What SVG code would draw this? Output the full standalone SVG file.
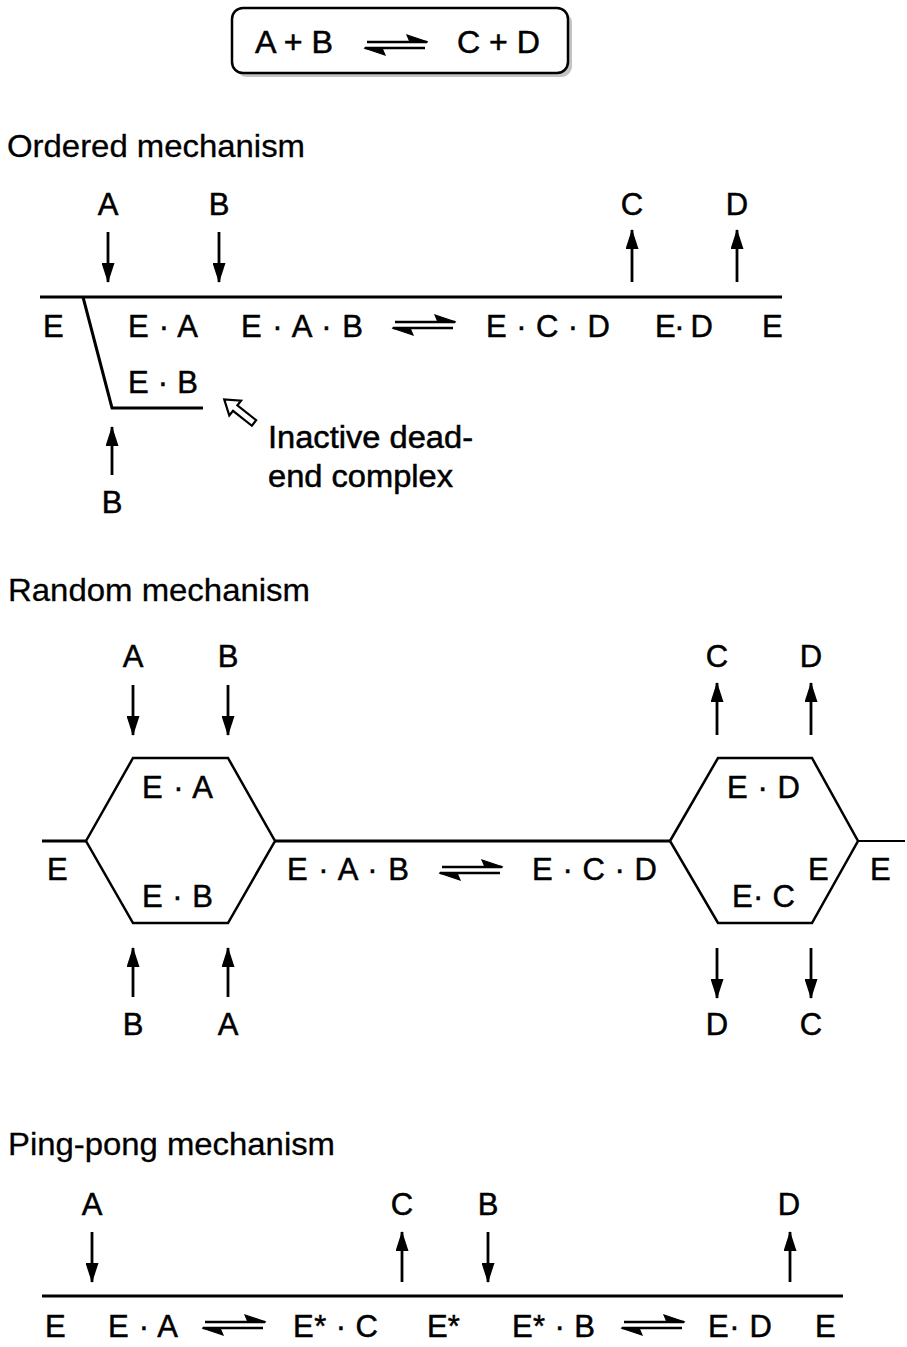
<svg xmlns="http://www.w3.org/2000/svg" width="907" height="1347" viewBox="0 0 907 1347">
<style>
.t{font-family:"Liberation Sans",Arial,sans-serif;font-size:31px;fill:#000;stroke:#000;stroke-width:0.5}
.ti{font-family:"Liberation Sans",Arial,sans-serif;font-size:32px;fill:#000;stroke:#000;stroke-width:0.3}
.c{text-anchor:middle}
.ln{stroke:#000;stroke-width:3;fill:none}
.hx{stroke:#000;stroke-width:2.5;fill:none;stroke-linejoin:miter}
.ar{stroke:#000;stroke-width:2.8;fill:none;marker-end:url(#ah)}
</style>
<defs>
<marker id="ah" markerUnits="userSpaceOnUse" markerWidth="20" markerHeight="13" refX="19" refY="6.5" orient="auto">
<path d="M0,0 L20,6.5 L0,13 Z" fill="#000"/>
</marker>
<g id="eq">
<line x1="2" y1="0" x2="62" y2="0" stroke="#000" stroke-width="2.6"/>
<path d="M63,0 L42,-7 L45,0 Z" fill="#000" stroke="#000" stroke-width="1.2"/>
<line x1="0" y1="6" x2="60" y2="6" stroke="#000" stroke-width="2.6"/>
<path d="M-1,6 L20,13 L17,6 Z" fill="#000" stroke="#000" stroke-width="1.2"/>
</g>
</defs>

<g id="reaction-box">
<rect x="236" y="12" width="336" height="65" rx="11" fill="#c4c4c4"/>
<rect x="232" y="8" width="336" height="65" rx="11" fill="#fff" stroke="#000" stroke-width="2.5"/>
<text class="t" x="255" y="53" textLength="78" lengthAdjust="spacingAndGlyphs">A + B</text>
<use href="#eq" x="365" y="42"/>
<text class="t" x="457" y="53" textLength="83" lengthAdjust="spacingAndGlyphs">C + D</text>
</g>

<g id="titles">
<text class="ti" x="7" y="157" textLength="298" lengthAdjust="spacingAndGlyphs">Ordered mechanism</text>
<text class="ti" x="8" y="601" textLength="302" lengthAdjust="spacingAndGlyphs">Random mechanism</text>
<text class="ti" x="8" y="1155" textLength="327" lengthAdjust="spacingAndGlyphs">Ping-pong mechanism</text>
</g>

<g id="connectors">
<line class="ln" x1="40" y1="297" x2="782" y2="297"/>
<polyline class="ln" points="83,297 112,408 203,408"/>
<line class="ar" x1="108" y1="232" x2="108" y2="282"/>
<line class="ar" x1="219" y1="232" x2="219" y2="282"/>
<line class="ar" x1="632" y1="282" x2="632" y2="230"/>
<line class="ar" x1="737" y1="282" x2="737" y2="230"/>
<line class="ar" x1="112" y1="475" x2="112" y2="427"/>
<polygon points="0,-3.5 24,-3.5 24,-9.5 38,0 24,9.5 24,3.5 0,3.5" fill="#fff" stroke="#000" stroke-width="2.2" stroke-linejoin="miter" transform="translate(254,423) rotate(218.4)"/>
<use href="#eq" x="393" y="322"/>
<line class="ln" x1="42" y1="841" x2="86" y2="841"/>
<polygon class="hx" points="86,841 133,758 228,758 275,841 228,923 133,923"/>
<line class="ln" x1="275" y1="841" x2="670" y2="841"/>
<polygon class="hx" points="670,841 718,758 812,758 858,841 812,923 718,923"/>
<line x1="858" y1="841" x2="905" y2="841" stroke="#000" stroke-width="2"/>
<line class="ar" x1="133" y1="685" x2="133" y2="735"/>
<line class="ar" x1="228" y1="685" x2="228" y2="735"/>
<line class="ar" x1="717" y1="735" x2="717" y2="683"/>
<line class="ar" x1="811" y1="735" x2="811" y2="683"/>
<line class="ar" x1="133" y1="997" x2="133" y2="948"/>
<line class="ar" x1="228" y1="997" x2="228" y2="948"/>
<line class="ar" x1="717" y1="948" x2="717" y2="998"/>
<line class="ar" x1="811" y1="948" x2="811" y2="998"/>
<use href="#eq" x="440" y="867"/>
<line class="ln" x1="42" y1="1296" x2="843" y2="1296"/>
<line class="ar" x1="92" y1="1232" x2="92" y2="1282"/>
<line class="ar" x1="402" y1="1282" x2="402" y2="1232"/>
<line class="ar" x1="488" y1="1232" x2="488" y2="1282"/>
<line class="ar" x1="790" y1="1282" x2="790" y2="1232"/>
<use href="#eq" x="203" y="1322"/>
<use href="#eq" x="622" y="1322"/>
</g>

<g id="ordered-nodes">
<text class="t c" x="108" y="215">A</text>
<text class="t c" x="219" y="215">B</text>
<text class="t c" x="632" y="215">C</text>
<text class="t c" x="737" y="215">D</text>
<text class="t c" x="112" y="513">B</text>
<text class="t" x="43" y="337">E</text>
<text class="t" x="128" y="337" textLength="70" lengthAdjust="spacing">E · A</text>
<text class="t" x="241" y="337" textLength="122" lengthAdjust="spacing">E · A · B</text>
<text class="t" x="486" y="337" textLength="124" lengthAdjust="spacing">E · C · D</text>
<text class="t" x="655" y="337" textLength="58" lengthAdjust="spacing">E· D</text>
<text class="t" x="762" y="337">E</text>
<text class="t" x="128" y="393" textLength="70" lengthAdjust="spacing">E · B</text>
<text class="t" x="268" y="448" textLength="205" lengthAdjust="spacingAndGlyphs">Inactive dead-</text>
<text class="t" x="268" y="487" textLength="185" lengthAdjust="spacingAndGlyphs">end complex</text>
</g>

<g id="random-nodes">
<text class="t c" x="133" y="667">A</text>
<text class="t c" x="228" y="667">B</text>
<text class="t c" x="717" y="667">C</text>
<text class="t c" x="811" y="667">D</text>
<text class="t c" x="133" y="1035">B</text>
<text class="t c" x="228" y="1035">A</text>
<text class="t c" x="717" y="1035">D</text>
<text class="t c" x="811" y="1035">C</text>
<text class="t" x="47" y="880">E</text>
<text class="t" x="142" y="798" textLength="71" lengthAdjust="spacing">E · A</text>
<text class="t" x="142" y="907" textLength="71" lengthAdjust="spacing">E · B</text>
<text class="t" x="287" y="880" textLength="122" lengthAdjust="spacing">E · A · B</text>
<text class="t" x="532" y="880" textLength="125" lengthAdjust="spacing">E · C · D</text>
<text class="t" x="727" y="798" textLength="73" lengthAdjust="spacing">E · D</text>
<text class="t" x="732" y="907" textLength="63" lengthAdjust="spacing">E· C</text>
<text class="t" x="808" y="880">E</text>
<text class="t" x="870" y="880">E</text>
</g>

<g id="pingpong-nodes">
<text class="t c" x="92" y="1215">A</text>
<text class="t c" x="402" y="1215">C</text>
<text class="t c" x="488" y="1215">B</text>
<text class="t c" x="789" y="1215">D</text>
<text class="t" x="45" y="1337">E</text>
<text class="t" x="108" y="1337" textLength="70" lengthAdjust="spacing">E · A</text>
<text class="t" x="293" y="1337" textLength="85" lengthAdjust="spacing">E* · C</text>
<text class="t" x="427" y="1337">E*</text>
<text class="t" x="512" y="1337" textLength="83" lengthAdjust="spacing">E* · B</text>
<text class="t" x="708" y="1337" textLength="64" lengthAdjust="spacing">E· D</text>
<text class="t" x="815" y="1337">E</text>
</g>
</svg>
